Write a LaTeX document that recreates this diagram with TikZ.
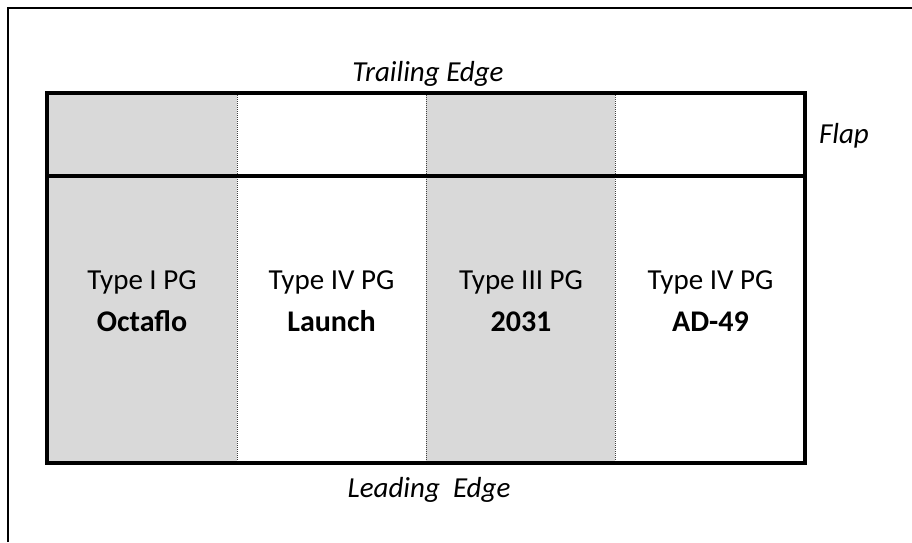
\documentclass[tikz,border=0pt]{standalone}
\usepackage{fontspec}
\setmainfont{Carlito}
\usepackage{xcolor}
\usetikzlibrary{positioning}

\definecolor{panelgray}{HTML}{D9D9D9}

\begin{document}
\begin{tikzpicture}[
    x=1pt, y=-1pt,
    frame/.style={line width=2pt},
    wing/.style={line width=3.5pt},
    split/.style={densely dotted, line width=1pt, black!75},
    shade/.style={fill=panelgray},
    tag/.style={font=\fontsize{29}{35}\selectfont, anchor=base},
    edgetext/.style={font=\fontsize{29}{35}\selectfont\itshape, anchor=base}
]

\useasboundingbox (0,0) rectangle (912,542);

% outer frame
\draw[frame] (8,542) -- (8,8) -- (912,8);

% shaded panels
\fill[shade] (47,93) rectangle (237,463);
\fill[shade] (426,93) rectangle (615,463);

\foreach \x in {237,426,615}
    \draw[split] (\x,93) -- (\x,463);

\draw[wing] (47,93) rectangle (805,463);
\draw[wing] (47,176) -- (805,176);

\node[edgetext] (trailing) at (428,81) {Trailing Edge};
\node[edgetext] (leading) at (429,497) {Leading~~Edge};
\node[edgetext] (flap) at (844,143) {Flap};

\foreach \i/\kind/\name in {0/I/Octaflo, 1/IV/Launch, 2/III/2031, 3/IV/AD-49} {
    \node[tag] (type\i) at ({142+189.5*\i},289) {Type \kind{} PG};
    \node[tag, font=\fontsize{30}{36}\selectfont\bfseries] (name\i) at ({142+189.5*\i},331) {\name};
}

\end{tikzpicture}
\end{document}
